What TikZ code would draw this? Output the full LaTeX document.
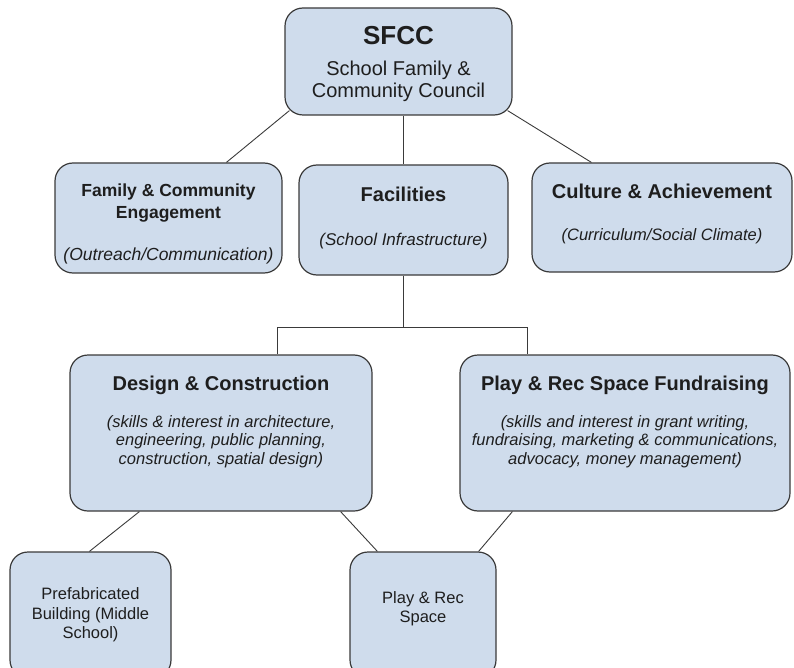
\documentclass[tikz,border=0pt]{standalone}
\usepackage{fontspec}
\setmainfont{Liberation Sans}
\usetikzlibrary{positioning,calc}
\definecolor{boxblue}{HTML}{CFDCEC}
\definecolor{edgegray}{HTML}{3A3A3A}
\definecolor{inkgray}{HTML}{1E1E1E}

\begin{document}
\begin{tikzpicture}[x=1pt, y=1pt,
    main/.style = {draw=edgegray, line width=1.2pt, fill=boxblue, rounded corners=18pt,
                   align=center, inner sep=0pt, text=inkgray},
    link/.style = {draw=edgegray, line width=0.9pt}]
    \useasboundingbox (0,0) rectangle (794,-668);
    \clip (0,0) rectangle (794,-668);

    \node[main, minimum width=227pt, minimum height=107pt, font=\fontsize{20}{22}\selectfont] (sfcc) at (398.5,-61.5)
        {\rule{0pt}{23pt}{\fontsize{26}{26}\selectfont\bfseries SFCC}\\[9pt] School Family \&\\ Community Council};

    \node[main, minimum width=227pt, minimum height=110pt, font=\fontsize{17.5}{22}\selectfont] (fam) at (168.5,-218)
        {\rule{0pt}{24.5pt}{\bfseries Family \& Community}\\ {\bfseries Engagement}\\[20.5pt] {\itshape (Outreach/Communication)}};
    \node[main, minimum width=209pt, minimum height=110pt, font=\fontsize{17}{20}\selectfont] (fac) at (403.5,-220)
        {{\fontsize{20}{20}\selectfont\bfseries Facilities}\\[24pt] {\itshape (School Infrastructure)}\rule[-8pt]{0pt}{0pt}};
    \node[main, minimum width=260pt, minimum height=109pt, font=\fontsize{16.5}{20}\selectfont] (cul) at (662,-217.5)
        {{\fontsize{20}{20}\selectfont\bfseries Culture \& Achievement}\\[22pt] {\itshape (Curriculum/Social Climate)}\rule[-10pt]{0pt}{0pt}};

    \node[main, minimum width=302pt, minimum height=156pt, font=\fontsize{16.5}{18.5}\selectfont] (des) at (221,-433)
        {{\fontsize{20}{20}\selectfont\bfseries Design \& Construction}\\[18.5pt]
         {\itshape (skills \& interest in architecture,}\\ {\itshape engineering, public planning,}\\
         {\itshape construction, spatial design)}\rule[-26pt]{0pt}{0pt}};
    \node[main, minimum width=330pt, minimum height=156pt, font=\fontsize{16.5}{18.5}\selectfont] (fund) at (625,-433)
        {{\fontsize{20}{20}\selectfont\bfseries Play \& Rec Space Fundraising}\\[18.5pt]
         {\itshape (skills and interest in grant writing,}\\ {\itshape fundraising, marketing \& communications,}\\
         {\itshape advocacy, money management)}\rule[-26pt]{0pt}{0pt}};

    \node[main, minimum width=161pt, minimum height=126pt, font=\fontsize{16.5}{19.5}\selectfont] (pre) at (90.5,-615)
        {Prefabricated\\ Building (Middle\\ School)};
    \node[main, minimum width=146pt, minimum height=126pt, font=\fontsize{16.5}{19.5}\selectfont] (space) at (423,-615)
        {Play \& Rec\\ Space\rule[-16pt]{0pt}{0pt}};

    \draw[link] ($(sfcc.south west)+(5,5)$) -- ($(fam.north west)+(172,0)$);
    \draw[link] (fac.north) -- (fac.north |- sfcc.south);
    \draw[link] ($(sfcc.south east)+(-5,5)$) -- ($(cul.north west)+(60,0)$);

    \coordinate (split) at ($(fac.south)+(0,-52)$);
    \draw[link] (fac.south) -- (split);
    \draw[link] ($(des.north west)+(208,0)$) |- (split) -| ($(fund.north west)+(68,0)$);

    \draw[link] ($(des.south west)+(70,0)$) -- ($(pre.north west)+(80,0)$);
    \draw[link] ($(des.south east)+(-32,0)$) -- ($(space.north west)+(28,0)$);
    \draw[link] ($(fund.south west)+(53,0)$) -- ($(space.north east)+(-18,0)$);
\end{tikzpicture}
\end{document}
